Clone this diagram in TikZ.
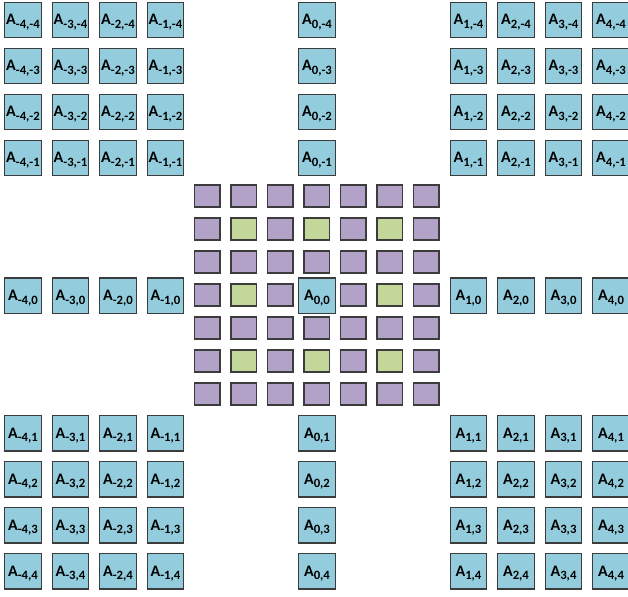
\documentclass[tikz,border=0pt]{standalone}
\usepackage{fontspec}
\setsansfont{Carlito}
\usepackage{xcolor}
\usepackage{tikz}
\definecolor{cellblue}{HTML}{93CDDD}
\definecolor{lilac}{HTML}{B3A2C7}
\definecolor{leaf}{HTML}{C4D79B}
\definecolor{edge}{HTML}{3C3C3C}
\newcommand{\aidx}[2]{A\raisebox{-3.3pt}{\fontsize{12.7}{12.7}\selectfont#1,#2}}

\begin{document}
\begin{tikzpicture}[
  x=1pt, y=-1pt,
  cell/.style={rectangle, draw=edge, fill=cellblue, line width=1.4pt,
               minimum width=36.5pt, minimum height=35.5pt, inner sep=0pt,
               font=\sffamily\bfseries\fontsize{16}{16}\selectfont,
               text height=10pt, text depth=0pt},
  tile/.style={rectangle, draw=edge, line width=1.3pt,
               minimum width=25.4pt, minimum height=22.2pt, inner sep=0pt}
]
  \clip (0,0) rectangle (628,596);

  % inner grid of small tiles
  \foreach \k in {-3,...,3}{
    \foreach \l in {-3,...,3}{
      \ifodd\k \def\tcol{lilac}\else\ifodd\l \def\tcol{lilac}\else\def\tcol{leaf}\fi\fi
      \ifnum\numexpr\k*\k+\l*\l\relax>0
        \node[tile, fill=\tcol] (t\k\l) at ({316.8+36.5*\k},{295+33*\l}) {};
      \fi
    }
  }

  % outer grid of labelled cells
  \foreach \i in {-4,...,4}{
    \foreach \j in {-4,...,4}{
      \pgfmathsetmacro\cx{317+sign(\i)*(151.5+(abs(\i)-1)*47.5)}
      \pgfmathsetmacro\cy{295.7+sign(\j)*(137.7+(abs(\j)-1)*46)}
      \node[cell] (A\i\j) at (\cx,\cy) {\aidx{\i}{\j}};
    }
  }
\end{tikzpicture}
\end{document}
